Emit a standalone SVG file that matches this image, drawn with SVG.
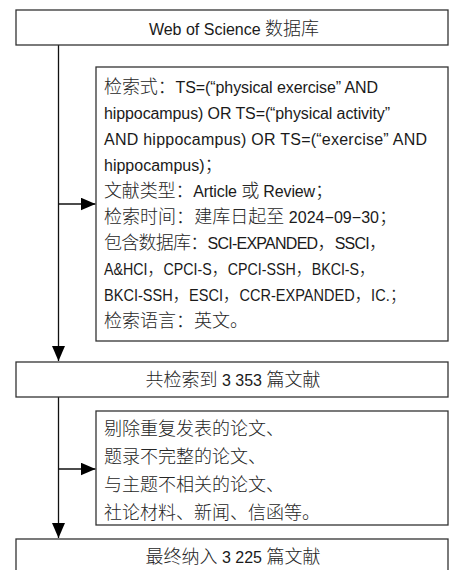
<svg xmlns="http://www.w3.org/2000/svg" width="451" height="570" viewBox="0 0 451 570">
<style>
.box{fill:#fff;stroke:#333;stroke-width:1.3}
.t{font-family:"Liberation Sans","Noto Sans CJK SC",sans-serif;font-size:16px;fill:#1a1a1a}
.c{font-family:"Noto Sans CJK SC",sans-serif;font-size:18px;font-weight:300;fill:#262626}
.ln{stroke:#111;stroke-width:1.3;fill:none}
</style>
<defs>
<marker id="ah" markerUnits="userSpaceOnUse" markerWidth="16" markerHeight="14" refX="15" refY="6.5" orient="auto">
<path d="M0,0 L15,6.5 L0,13 Z" fill="#000"/>
</marker>
</defs>
<g id="connectors">
<line class="ln" x1="58.5" y1="45" x2="58.5" y2="361" marker-end="url(#ah)"/>
<line class="ln" x1="58.5" y1="204" x2="95.5" y2="204" marker-end="url(#ah)"/>
<line class="ln" x1="58.5" y1="397" x2="58.5" y2="538" marker-end="url(#ah)"/>
<line class="ln" x1="58.5" y1="469" x2="95.5" y2="469" marker-end="url(#ah)"/>
</g>
<g id="node-wos">
<rect class="box" x="16" y="10" width="432" height="35"/>
<text class="t" x="234" y="35" text-anchor="middle">Web of Science <tspan class="c">数据库</tspan></text>
</g>
<g id="node-search">
<rect class="box" x="96" y="67" width="352" height="274"/>
<text class="t" x="104" y="93" textLength="274" lengthAdjust="spacing"><tspan class="c">检索式：</tspan>TS=(“physical exercise” AND</text>
<text class="t" x="104" y="119" textLength="286" lengthAdjust="spacing">hippocampus) OR TS=(“physical activity”</text>
<text class="t" x="104" y="145" textLength="323" lengthAdjust="spacing">AND hippocampus) OR TS=(“exercise” AND</text>
<text class="t" x="104" y="171">hippocampus)<tspan class="c">；</tspan></text>
<text class="t" x="104" y="197" textLength="229" lengthAdjust="spacing"><tspan class="c">文献类型：</tspan>Article <tspan class="c">或</tspan> Review<tspan class="c">；</tspan></text>
<text class="t" x="104" y="223" textLength="293" lengthAdjust="spacing"><tspan class="c">检索时间：建库日起至</tspan> 2024−09−30<tspan class="c">；</tspan></text>
<text class="t" x="104" y="249" textLength="283" lengthAdjust="spacing"><tspan class="c">包含数据库：</tspan>SCI-EXPANDED<tspan class="c">，</tspan>SSCI<tspan class="c">，</tspan></text>
<text class="t" transform="translate(104,275) scale(0.89,1)" x="0" y="0">A&amp;HCI<tspan class="c">，</tspan>CPCI-S<tspan class="c">，</tspan>CPCI-SSH<tspan class="c">，</tspan>BKCI-S<tspan class="c">，</tspan></text>
<text class="t" transform="translate(104,301) scale(0.91,1)" x="0" y="0">BKCI-SSH<tspan class="c">，</tspan>ESCI<tspan class="c">，</tspan>CCR-EXPANDED<tspan class="c">，</tspan>IC.<tspan class="c">；</tspan></text>
<text class="t" x="104" y="327"><tspan class="c">检索语言：英文。</tspan></text>
</g>
<g id="node-total">
<rect class="box" x="16" y="362" width="432" height="35"/>
<text class="t" x="233" y="386" text-anchor="middle"><tspan class="c">共检索到</tspan> 3 353 <tspan class="c">篇文献</tspan></text>
</g>
<g id="node-exclude">
<rect class="box" x="96" y="411" width="352" height="114"/>
<text class="t c" x="104" y="435">剔除重复发表的论文、</text>
<text class="t c" x="104" y="463">题录不完整的论文、</text>
<text class="t c" x="104" y="491">与主题不相关的论文、</text>
<text class="t c" x="104" y="519">社论材料、新闻、信函等。</text>
</g>
<g id="node-final">
<rect class="box" x="16" y="539" width="432" height="40"/>
<text class="t" x="233" y="563" text-anchor="middle"><tspan class="c">最终纳入</tspan> 3 225 <tspan class="c">篇文献</tspan></text>
</g>
</svg>
